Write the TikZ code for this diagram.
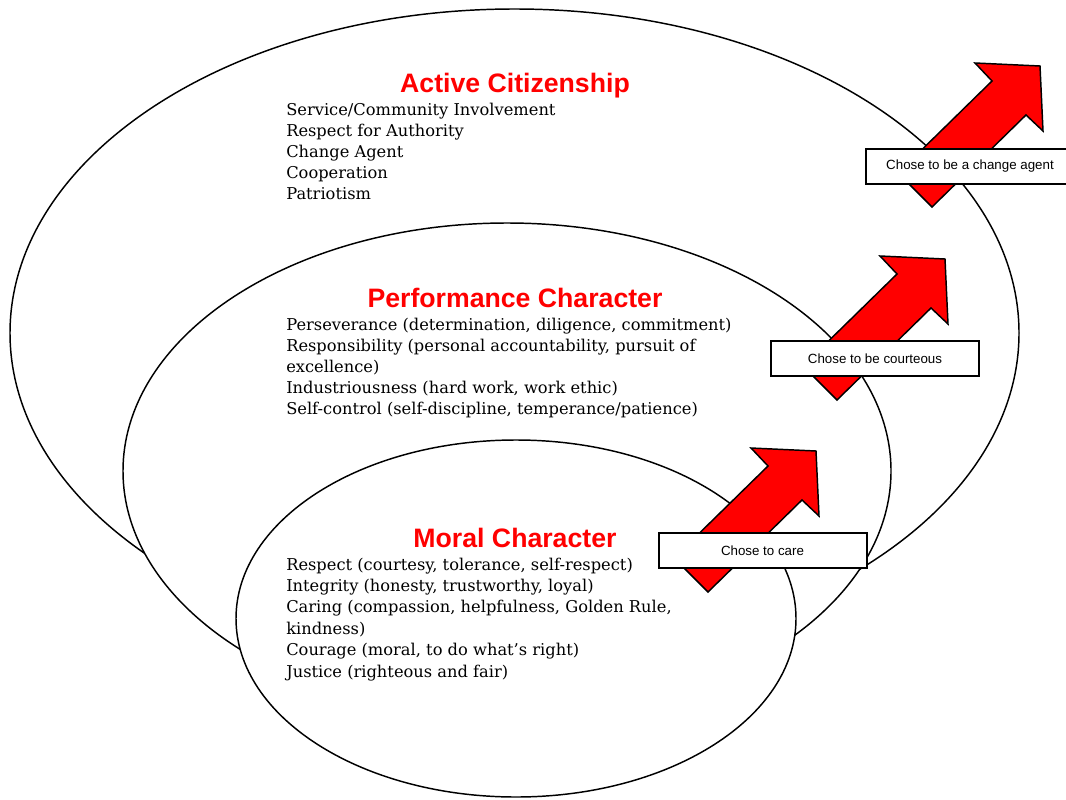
\documentclass[tikz,border=0pt]{standalone}
\usepackage{fontspec}
\setmainfont{DejaVu Serif}
\setsansfont{Liberation Sans}
\usetikzlibrary{positioning}

\definecolor{titlered}{RGB}{255,0,0}

\tikzset{
  ring/.style={draw=black, fill=white, line width=1.1pt},
  blockarrow/.style={draw=black, fill=titlered, line width=1.1pt, line join=miter},
  heading/.style={font=\sffamily\bfseries\fontsize{20}{24}\selectfont, text=titlered, inner sep=0pt, anchor=base},
  item/.style={font=\fontsize{12.2}{15}\selectfont, inner sep=0pt, anchor=base west},
  choice/.style={draw=black, fill=white, line width=1.5pt, minimum width=156pt, minimum height=26.25pt, inner sep=0pt, font=\sffamily\fontsize{10}{12}\selectfont}
}

\begin{document}
\begin{tikzpicture}[x=0.75pt,y=0.75pt,yscale=-1,xscale=1]
\clip (0,0) rectangle (1066,799);

%Ellipses
\draw [ring] (514.5,333) ellipse [x radius=504.5, y radius=324];
\draw [ring] (507,471) ellipse [x radius=384, y radius=248];
\draw [ring] (516,618.5) ellipse [x radius=280, y radius=178.5];

%Block arrows, given by the point of the tail
\foreach \bx/\by in {932/207, 837/400, 708/592}
  \draw [blockarrow, shift={(\bx,\by)}] (0,0) -- (94,-92) -- (111,-76) -- (108,-141) -- (43,-144) -- (60,-126) -- (-34,-34) -- cycle;

%Choice boxes
\node [choice] (agent) at (970,166.5) {Chose to be a change agent};
\node [choice] (courteous) at (875,358.5) {Chose to be courteous};
\node [choice] (care) at (762.5,550.5) {Chose to care};

%Active citizenship
\node [heading] (citizen) at (515,92) {Active Citizenship};
\foreach \txt [count=\i] in {{Service/Community Involvement}, {Respect for Authority}, {Change Agent}, {Cooperation}, {Patriotism}}
  \node [item] (citizen\i) at (286,{115+21*(\i-1)}) {\txt};

%Performance character
\node [heading] (perform) at (515,307) {Performance Character};
\foreach \txt [count=\i] in {{Perseverance (determination, diligence, commitment)}, {Responsibility (personal accountability, pursuit of}, {excellence)}, {Industriousness (hard work, work ethic)}, {Self-control (self-discipline, temperance/patience)}}
  \node [item] (perform\i) at (286,{330+21*(\i-1)}) {\txt};

%Moral character
\node [heading] (moral) at (515,547) {Moral Character};
\foreach \txt [count=\i] in {{Respect (courtesy, tolerance, self-respect)}, {Integrity (honesty, trustworthy, loyal)}, {Caring (compassion, helpfulness, Golden Rule,}, {kindness)}, {Courage (moral, to do what’s right)}, {Justice (righteous and fair)}}
  \node [item] (moral\i) at (286,{570+21.4*(\i-1)}) {\txt};

\end{tikzpicture}
\end{document}
